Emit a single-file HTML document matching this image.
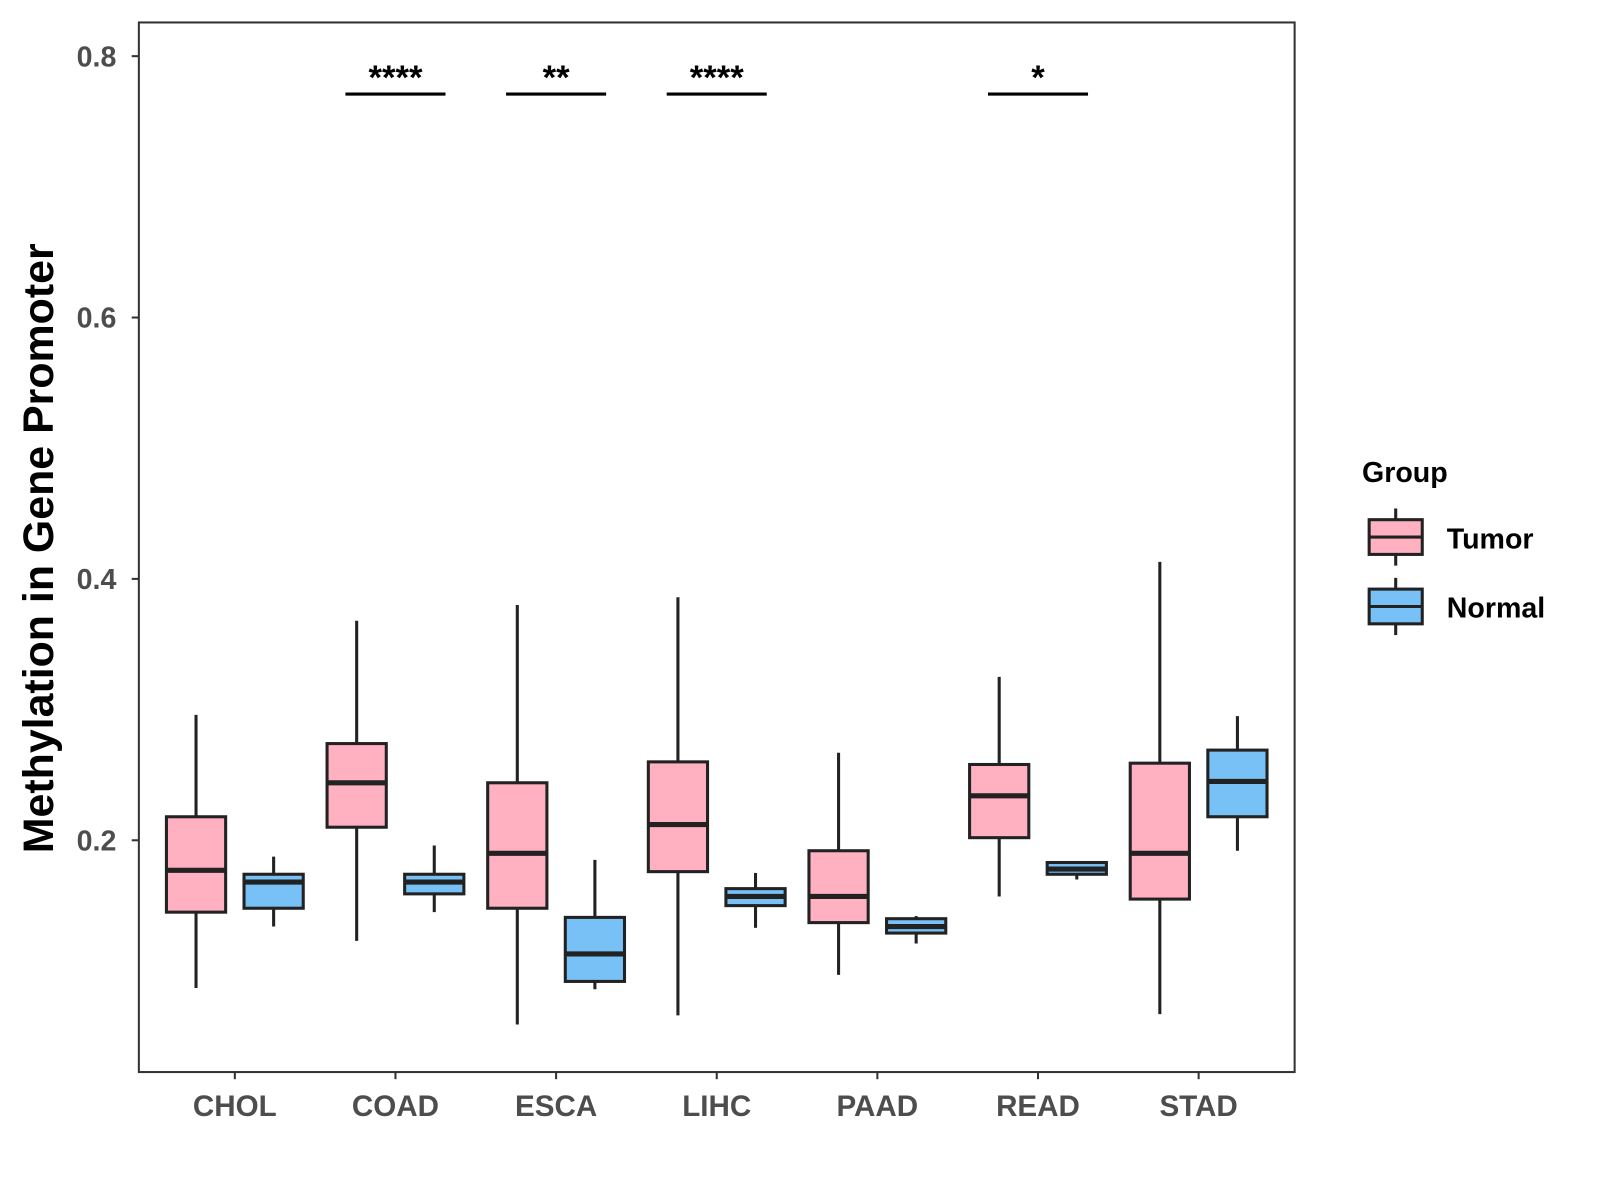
<!DOCTYPE html>
<html><head><meta charset="utf-8"><style>
html,body{margin:0;padding:0;background:#fff;}
svg{display:block;font-family:"Liberation Sans",Arial,sans-serif;}
</style></head><body>
<svg id="chart" width="1600" height="1200" viewBox="0 0 1600 1200" xmlns="http://www.w3.org/2000/svg">
<rect x="0" y="0" width="1600" height="1200" fill="#fff"/>
<g transform="scale(1.021)">
<rect x="136" y="22" width="1132" height="1028" fill="none" stroke="#333" stroke-width="2"/>
<g id="marks"></g>
<text transform="translate(52,537) rotate(-90)" text-anchor="middle" font-size="42" font-weight="bold" fill="#000">Methylation in Gene Promoter</text>
<g>
<text x="1334" y="472" font-size="28" font-weight="bold" fill="#000">Group</text>
<g>
<line x1="1367" y1="498" x2="1367" y2="554" stroke="#222" stroke-width="3"/>
<rect x="1341" y="509" width="52" height="34" fill="#FFB0C1" stroke="#222" stroke-width="3"/>
<line x1="1341" y1="526" x2="1393" y2="526" stroke="#222" stroke-width="3"/>
<text x="1417" y="537" font-size="28" font-weight="bold" fill="#000">Tumor</text>
</g>
<g>
<line x1="1367" y1="566" x2="1367" y2="622" stroke="#222" stroke-width="3"/>
<rect x="1341" y="577" width="52" height="34" fill="#78C1F6" stroke="#222" stroke-width="3"/>
<line x1="1341" y1="594" x2="1393" y2="594" stroke="#222" stroke-width="3"/>
<text x="1417" y="605" font-size="28" font-weight="bold" fill="#000">Normal</text>
</g>
</g>
</g>
</svg>
<script>
const categories = ["CHOL","COAD","ESCA","LIHC","PAAD","READ","STAD"];
// [min, q1, median, q3, max]
const tumorStats = [
 [0.087,0.145,0.177,0.218,0.296],
 [0.123,0.210,0.244,0.274,0.368],
 [0.059,0.148,0.190,0.244,0.380],
 [0.066,0.176,0.212,0.260,0.386],
 [0.097,0.137,0.157,0.192,0.267],
 [0.157,0.202,0.234,0.258,0.325],
 [0.067,0.155,0.190,0.259,0.413]
];
const normalStats = [
 [0.134,0.148,0.168,0.174,0.1875],
 [0.145,0.159,0.168,0.174,0.196],
 [0.086,0.092,0.113,0.141,0.185],
 [0.133,0.150,0.157,0.163,0.175],
 [0.121,0.129,0.134,0.140,0.142],
 [0.170,0.174,0.178,0.183,0.184],
 [0.192,0.218,0.245,0.269,0.295]
];
const yTicks = [0.2,0.4,0.6,0.8];
const sigLabels = ["","****","**","****","","*",""];
const sigY = 0.771;

const NS="http://www.w3.org/2000/svg";
const g=document.getElementById('marks');
const y=v=>55+(0.8-v)*1280;
const x=i=>230+i*157.33;
function el(t,a,p){const e=document.createElementNS(NS,t);for(const k in a)e.setAttribute(k,a[k]);(p||g).appendChild(e);return e;}

yTicks.forEach((t,i)=>{
 const tk=el('line',{x1:129,x2:136,y1:y(t),y2:y(t),stroke:'#333','stroke-width':2});
 
 
 const tx=el('text',{x:114,y:y(t)+10,'text-anchor':'end','font-size':28,'font-weight':'bold',fill:'#4d4d4d'});
 tx.textContent=t.toFixed(1);
 
 
});
categories.forEach((c,i)=>{
 const tk=el('line',{x1:x(i),x2:x(i),y1:1050,y2:1057,stroke:'#333','stroke-width':2});
 
 
 const tx=el('text',{x:x(i),y:1093,'text-anchor':'middle','font-size':29,'font-weight':'bold',fill:'#4d4d4d'});
 tx.textContent=c;
 
 
});
function box(cx,s,fill,name){
 const grp=el('g',{});
 
 
 el('line',{x1:cx,x2:cx,y1:y(s[0]),y2:y(s[4]),stroke:'#222','stroke-width':3},grp);
 el('rect',{x:cx-29,y:y(s[3]),width:58,height:Math.max(1,y(s[1])-y(s[3])),fill:fill,stroke:'#222','stroke-width':3},grp);
 el('line',{x1:cx-29,x2:cx+29,y1:y(s[2]),y2:y(s[2]),stroke:'#222','stroke-width':5},grp);
}
categories.forEach((c,i)=>{
 box(x(i)-38,tumorStats[i],'#FFB0C1','box-tumor-'+c.toLowerCase());
 box(x(i)+38,normalStats[i],'#78C1F6','box-normal-'+c.toLowerCase());
 if(sigLabels[i]){
  const ln=el('line',{x1:x(i)-49,x2:x(i)+49,y1:y(sigY),y2:y(sigY),stroke:'#000','stroke-width':3});
  
  
  const t=el('text',{x:x(i),y:y(sigY)-5,'text-anchor':'middle','font-size':34,'font-weight':'bold',fill:'#000'});
  t.textContent=sigLabels[i];
  
  
 }
});
</script>
</body></html>
